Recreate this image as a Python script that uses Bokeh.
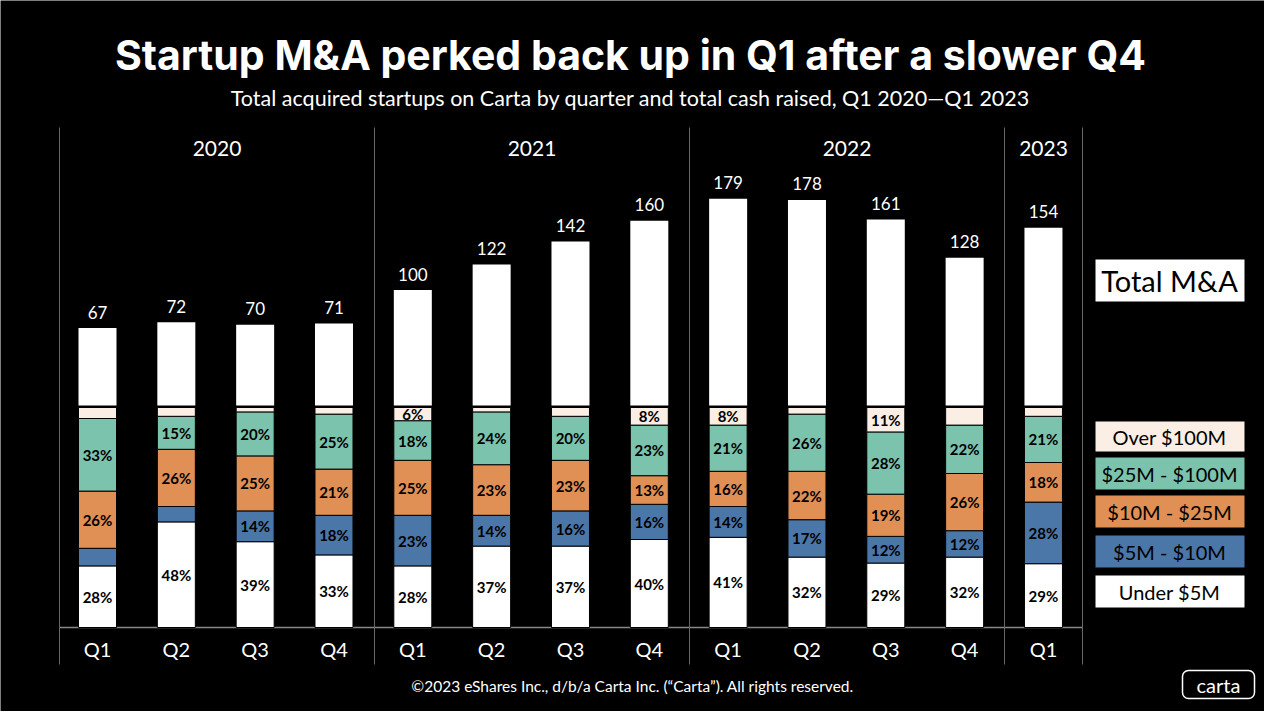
from bokeh.plotting import figure
from bokeh.models import Range1d
from bokeh.core.properties import value
from bokeh.embed import file_html
from bokeh.resources import INLINE
import numpy as np

years = ["2020", "2021", "2022", "2023"]
quarters = ["Q1","Q2","Q3","Q4","Q1","Q2","Q3","Q4","Q1","Q2","Q3","Q4","Q1"]
totals = [67, 72, 70, 71, 100, 122, 142, 160, 179, 178, 161, 128, 154]
under5 = [28, 48, 39, 33, 28, 37, 37, 40, 41, 32, 29, 32, 29]
m5_10 = [8, 7, 14, 18, 23, 14, 16, 16, 14, 17, 12, 12, 28]
m10_25 = [26, 26, 25, 21, 25, 23, 23, 13, 16, 22, 19, 26, 18]
m25_100 = [33, 15, 20, 25, 18, 24, 20, 23, 21, 26, 28, 22, 21]
over100 = [5, 4, 2, 3, 6, 2, 4, 8, 8, 3, 11, 8, 4]
over_labels = ["", "", "", "", "6%", "", "", "8%", "8%", "", "11%", "", ""]
seg_names = ["Under $5M", "$5M - $10M", "$10M - $25M", "$25M - $100M", "Over $100M"]
seg_colors = ["#ffffff", "#4a76a8", "#e08f55", "#7cc3ae", "#fbeee4"]

W, H = 1264, 711
p = figure(width=W, height=H, x_range=Range1d(8, 1272), y_range=Range1d(719, 8),
           output_backend="svg", toolbar_location=None, min_border=0)
p.axis.visible = False
p.grid.visible = False
p.outline_line_color = None
p.background_fill_color = "black"
p.border_fill_color = "black"

FONT = value("Lato")
n = len(totals)
x0, dx, bw = 105, 78.83, 38
xs = [x0 + i * dx for i in range(n)]
base, full = 635, 220
pxu = 1.155

p.segment(x0=[67], y0=[635], x1=[1090], y1=[635], line_color="#888888", line_width=1.5)
for xv in [67, 382, 697, 1012, 1090]:
    p.segment(x0=[xv], y0=[135], x1=[xv], y1=[672], line_color="#666666", line_width=1)

year_x = [(67 + 382) / 2, (382 + 697) / 2, (697 + 1012) / 2, (1012 + 1090) / 2]
p.text(x=year_x, y=[156] * 4, text=years, text_color="white", text_font=FONT,
       text_font_size="21px", text_align="center", text_baseline="middle")
p.text(x=xs, y=[656] * n, text=quarters, text_color="white", text_font=FONT,
       text_font_size="20px", text_align="center", text_baseline="middle")

segs = [under5, m5_10, m10_25, m25_100, over100]
tot = np.array(segs, dtype=float).sum(axis=0)
bottom = np.zeros(n)
for k, s in enumerate(segs):
    frac = np.array(s, dtype=float) / tot
    b = base - bottom * full
    t = base - (bottom + frac) * full
    p.quad(left=[x - bw / 2 for x in xs], right=[x + bw / 2 for x in xs],
           bottom=list(b), top=list(t), fill_color=seg_colors[k],
           line_color="black", line_width=1)
    if k < 4:
        labs = [f"{v}%" if v >= 10 else "" for v in segs[k]]
    else:
        labs = over_labels
    p.text(x=xs, y=list((b + t) / 2), text=labs, text_color="black", text_font=FONT,
           text_font_style="bold", text_font_size="15px", text_align="center",
           text_baseline="middle")
    bottom = bottom + frac

top0 = base - full
p.quad(left=[x - bw / 2 for x in xs], right=[x + bw / 2 for x in xs],
       bottom=[top0 - 2] * n, top=[top0 - 2 - t * pxu for t in totals],
       fill_color="white", line_color=None)
p.text(x=xs, y=[top0 - 2 - t * pxu - 16 for t in totals], text=[str(t) for t in totals],
       text_color="white", text_font=FONT, text_font_size="17px",
       text_align="center", text_baseline="middle")

p.quad(left=[1103], right=[1252], top=[267], bottom=[309], fill_color="white", line_color=None)
p.text(x=[1177], y=[288], text=["Total M&A"], text_color="black", text_font=FONT,
       text_font_size="29px", text_align="center", text_baseline="middle")
leg_tops = [583, 543, 503, 465, 429]
leg_bots = [615, 575, 535, 497, 459]
p.quad(left=[1103] * 5, right=[1252] * 5, top=leg_tops, bottom=leg_bots,
       fill_color=seg_colors, line_color=None)
p.text(x=[1177] * 5, y=[(a + b) / 2 for a, b in zip(leg_tops, leg_bots)], text=seg_names,
       text_color="black", text_font=FONT, text_font_size="20px",
       text_align="center", text_baseline="middle")

p.text(x=[638], y=[62], text=["Startup M&A perked back up in Q1 after a slower Q4"],
       text_color="white", text_font=value("Inter"), text_font_style="bold",
       text_font_size="41px", text_align="center", text_baseline="middle")
p.text(x=[638], y=[105], text=["Total acquired startups on Carta by quarter and total cash raised, Q1 2020\u2014Q1 2023"],
       text_color="white", text_font=FONT, text_font_size="21.5px",
       text_align="center", text_baseline="middle")
p.text(x=[640], y=[693], text=["\u00a92023 eShares Inc., d/b/a Carta Inc. (\u201cCarta\u201d). All rights reserved."],
       text_color="white", text_font=FONT, text_font_size="15.5px",
       text_align="center", text_baseline="middle")
p.rect(x=[1226], y=[692], width=72, height=28, fill_color=None, line_color="white",
       line_width=1.5, border_radius=6)
p.text(x=[1226], y=[692], text=["carta"], text_color="white", text_font=FONT,
       text_font_size="20px", text_align="center", text_baseline="middle")

open("out.html", "w").write(file_html(p, INLINE))
